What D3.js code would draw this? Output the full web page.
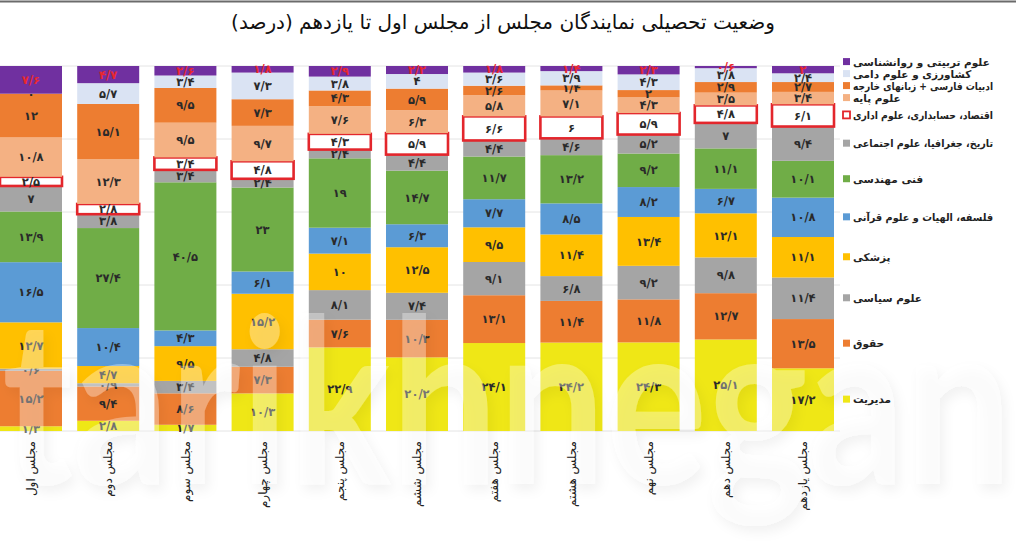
<!DOCTYPE html>
<html lang="fa">
<head>
<meta charset="utf-8">
<script src="https://cdn.jsdelivr.net/npm/d3@7"></script>
<style>
  html, body { margin: 0; padding: 0; background: #fff; }
  svg { display: block; font-family: "DejaVu Sans", sans-serif; }
</style>
</head>
<body>
<div id="chart"></div>
<script>
/* ── data: majles 1..11, share of each field (percent) ── */
const majles = ['مجلس اول', 'مجلس دوم', 'مجلس سوم', 'مجلس چهارم', 'مجلس پنجم', 'مجلس ششم',
                'مجلس هفتم', 'مجلس هشتم', 'مجلس نهم', 'مجلس دهم', 'مجلس یازدهم'];

const modiriat   = [1.3, 2.8, 1.7, 10.3, 22.9, 20.2, 24.1, 24.2, 24.3, 25.1, 17.2];
const hoghugh    = [15.2, 9.4, 8.6, 7.3, 7.6, 10.3, 13.1, 11.4, 11.8, 12.7, 13.5];
const siasi      = [0.6, 0.9, 3.4, 4.8, 8.1, 7.4, 9.1, 6.8, 9.2, 9.8, 11.4];
const pezeshki   = [12.7, 4.7, 9.5, 15.2, 10, 12.5, 9.5, 11.4, 13.4, 12.1, 11.1];
const falsafe    = [16.5, 10.4, 4.3, 6.1, 7.1, 6.3, 7.7, 8.5, 8.2, 6.7, 10.8];
const fanni      = [13.9, 27.4, 40.5, 23, 19, 14.7, 11.7, 13.2, 9.2, 11.1, 10.1];
const tarikh     = [7, 3.8, 3.4, 2.4, 2.4, 4.4, 4.4, 4.6, 5.2, 7, 9.4];
const eghtesad   = [2.5, 2.8, 3.4, 4.8, 4.3, 5.9, 6.6, 6, 5.9, 4.8, 6.1];
const paye       = [10.8, 12.3, 9.5, 9.7, 7.6, 6.3, 5.8, 7.1, 4.3, 3.5, 3.4];
const adabiat    = [12, 15.1, 9.5, 7.3, 4.3, 5.9, 2.6, 1.4, 2, 2.9, 2.7];
const keshavarzi = [0, 5.7, 3.4, 7.3, 3.8, 4, 3.6, 3.9, 4.3, 3.8, 2.4];
const tarbiati   = [7.6, 4.7, 2.6, 1.8, 2.9, 2.2, 1.8, 1.4, 2.3, 0.6, 2];

/* stacking order, bottom -> top */
const seriesKeys   = ['modiriat', 'hoghugh', 'siasi', 'pezeshki', 'falsafe', 'fanni',
                      'tarikh', 'eghtesad', 'paye', 'adabiat', 'keshavarzi', 'tarbiati'];
const seriesNames  = ['مدیریت', 'حقوق', 'علوم سیاسی', 'پزشکی', 'فلسفه، الهیات و علوم قرآنی', 'فنی مهندسی',
                      'تاریخ، جغرافیا، علوم اجتماعی', 'اقتصاد، حسابداری، علوم اداری', 'علوم پایه',
                      'ادبیات فارسی +  زبانهای خارجه', 'کشاورزی و علوم دامی', 'علوم تربیتی و روانشناسی'];
const seriesColors = ['#efe716', '#ed7d31', '#a5a5a5', '#ffc000', '#5b9bd5', '#70ad47',
                      '#a5a5a5', '#ffffff', '#f4b183', '#ed7d31', '#dae3f3', '#7030a0'];
const seriesValues = [modiriat, hoghugh, siasi, pezeshki, falsafe, fanni,
                      tarikh, eghtesad, paye, adabiat, keshavarzi, tarbiati];

const TITLE = 'وضعیت تحصیلی نمایندگان مجلس از مجلس اول تا یازدهم (درصد)';

/* ── helpers ── */
const faDigits = '۰۱۲۳۴۵۶۷۸۹';
function fa(v) {
    return String(v).replace('.', '/').replace(/\d/g, c => faDigits[+c]);
}

const W = 1016, H = 551;
const rows = majles.map((m, i) => {
    const r = { majles: m };
    seriesKeys.forEach((k, s) => { r[k] = seriesValues[s][i]; });
    return r;
});

const stacked = d3.stack().keys(seriesKeys).offset(d3.stackOffsetExpand)(rows);

const x = d3.scaleBand().domain(majles).range([0, 834]).paddingInner(0.197).paddingOuter(0);
const y = d3.scaleLinear().domain([0, 1]).range([431, 66]);

const svg = d3.select('#chart').append('svg')
    .attr('width', W).attr('height', H);

/* top rule */
svg.append('line')
    .attr('x1', 0).attr('x2', W).attr('y1', 1.5).attr('y2', 1.5)
    .attr('stroke', '#6b6b6b').attr('stroke-width', 2);

svg.append('text')
    .attr('x', 503).attr('y', 29)
    .attr('text-anchor', 'middle')
    .attr('font-size', 20)
    .attr('fill', '#111')
    .text(TITLE);

/* faint gridlines */
svg.append('g').selectAll('line')
    .data(d3.range(0, 1.01, 0.2))
    .join('line')
    .attr('x1', 0).attr('x2', 840)
    .attr('y1', d => y(d)).attr('y2', d => y(d))
    .attr('stroke', '#e4e4e4').attr('stroke-width', 1);

/* bars */
const layers = svg.append('g').selectAll('g')
    .data(stacked)
    .join('g');

layers.selectAll('rect')
    .data(d => d.map(p => ({ p, key: d.key, idx: d.index })))
    .join('rect')
    .attr('x', d => x(d.p.data.majles))
    .attr('width', x.bandwidth())
    .attr('y', d => y(d.p[1]))
    .attr('height', d => Math.max(0, y(d.p[0]) - y(d.p[1])))
    .attr('fill', d => seriesColors[d.idx])
    .attr('stroke', d => d.key === 'eghtesad' ? '#e3262c' : 'none')
    .attr('stroke-width', d => d.key === 'eghtesad' ? 2.6 : 0);

/* segment labels */
layers.selectAll('text')
    .data(d => d.map(p => ({ p, key: d.key, idx: d.index })))
    .join('text')
    .attr('x', d => x(d.p.data.majles) + x.bandwidth() / 2)
    .attr('y', d => (y(d.p[0]) + y(d.p[1])) / 2)
    .attr('dy', '0.36em')
    .attr('text-anchor', 'middle')
    .attr('font-size', 11.5)
    .attr('font-weight', 'bold')
    .attr('fill', d => d.key === 'tarbiati' ? '#e8282e' : '#2a2a2a')
    .text(d => fa(d.p.data[d.key]));

/* watermark */
const defs = svg.append('defs');
const f = defs.append('filter').attr('id', 'wm').attr('x', '-10%').attr('y', '-10%')
    .attr('width', '120%').attr('height', '130%');
f.append('feDropShadow').attr('dx', 4).attr('dy', 6).attr('stdDeviation', 6)
    .attr('flood-color', '#000').attr('flood-opacity', 0.16);
svg.append('text')
    .attr('x', 2).attr('y', 484)
    .attr('font-family', 'Lato, "Open Sans", sans-serif')
    .attr('font-weight', 'bold')
    .attr('font-size', 230)
    .attr('textLength', 1010)
    .attr('lengthAdjust', 'spacingAndGlyphs')
    .attr('fill', '#ffffff').attr('fill-opacity', 0.33)
    .attr('filter', 'url(#wm)')
    .attr('pointer-events', 'none')
    .text('tarikhnegan');

/* category labels, rotated */
svg.append('g').selectAll('text')
    .data(majles)
    .join('text')
    .attr('transform', d => `translate(${x(d) + x.bandwidth() / 2},441) rotate(-90)`)
    .attr('text-anchor', 'end')
    .attr('dy', '0.35em')
    .attr('font-size', 12)
    .attr('fill', '#222')
    .text(d => d);

/* legend placed beside the last bar, spread upward to avoid overlap */
const lastStack = stacked.map(s => s[s.length - 1]);
const legY = lastStack.map(p => (y(p[0]) + y(p[1])) / 2);
for (let i = 1; i < legY.length; i++) {
    legY[i] = Math.min(legY[i], legY[i - 1] - 12);
}

const leg = svg.append('g').selectAll('g')
    .data(seriesKeys.map((k, i) => ({ k, i })))
    .join('g')
    .attr('transform', d => `translate(843,${legY[d.i]})`);

leg.append('rect')
    .attr('x', 0).attr('y', -4)
    .attr('width', 7).attr('height', 7)
    .attr('fill', d => seriesColors[d.i])
    .attr('stroke', d => d.k === 'eghtesad' ? '#e3262c' : 'none')
    .attr('stroke-width', 1.8);

leg.append('text')
    .attr('x', 10)
    .attr('dy', '0.35em')
    .attr('font-size', 10.5)
    .attr('font-weight', 'bold')
    .attr('fill', '#222')
    .text(d => seriesNames[d.i])
    .each(function() {
        // keep long names inside the page
        if (this.getComputedTextLength() > 140) {
            d3.select(this).attr('textLength', 140).attr('lengthAdjust', 'spacingAndGlyphs');
        }
    });
</script>
</body>
</html>
